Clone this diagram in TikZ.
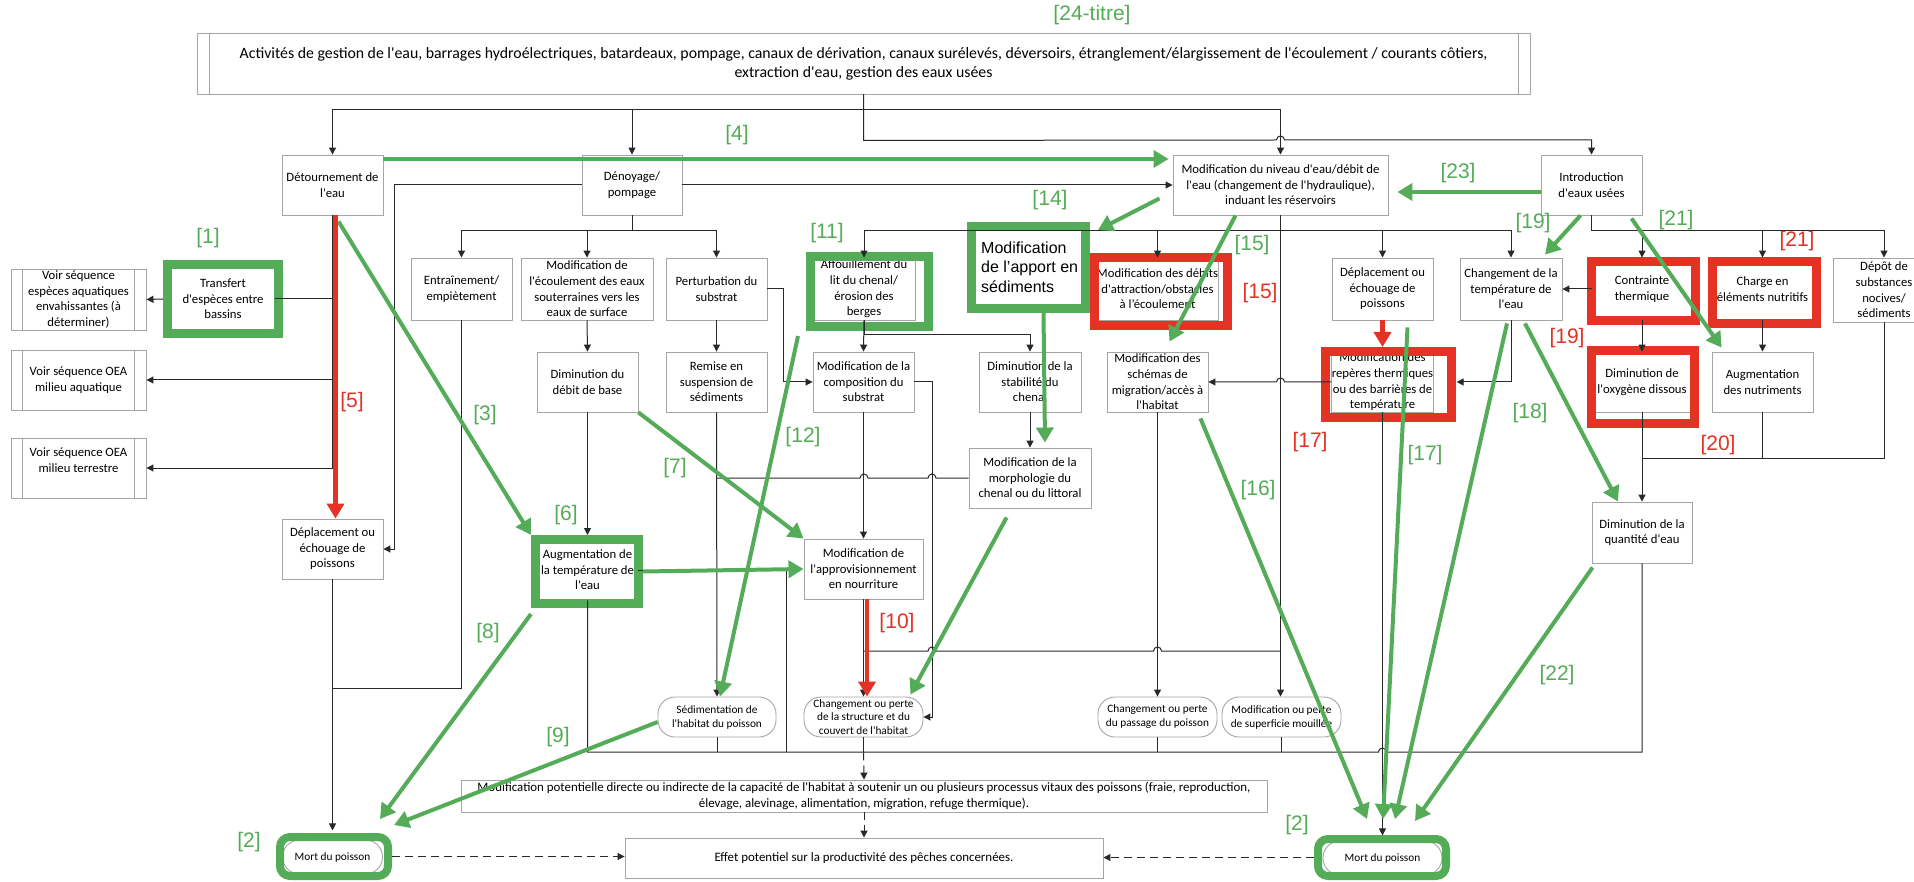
\documentclass[tikz,border=0pt]{standalone}
\usepackage{fontspec}
\setmainfont{Carlito}[Ligatures=TeXOff]
\newfontfamily\labfont{Liberation Sans}
\usetikzlibrary{arrows.meta,calc}
\definecolor{gg}{RGB}{84,172,88}
\definecolor{rr}{RGB}{228,50,36}
\definecolor{bxc}{RGB}{165,165,165}
\definecolor{lnc}{RGB}{40,40,40}
\tikzset{
  bbox/.style={draw=bxc, line width=0.9pt, fill=white, align=center, inner sep=0pt, text=black, font=\fontsize{12.7}{15.6}\selectfont},
  sbox/.style={bbox, rounded corners=17pt, font=\fontsize{11.3}{14}\selectfont},
  gframe/.style={draw=gg, line width=9pt, inner sep=0pt},
  rframe/.style={draw=rr, line width=9pt, inner sep=0pt},
  cline/.style={draw=lnc, line width=1pt},
  bxline/.style={draw=bxc, line width=0.9pt},
  conn/.style={cline, -{Triangle[length=7pt,width=7pt]}},
  dconn/.style={conn, dash pattern=on 8pt off 5pt},
  garr/.style={draw=gg, line width=4pt, -{Triangle[length=15pt,width=17pt]}},
  rarr/.style={draw=rr, line width=4.5pt, -{Triangle[length=15pt,width=17pt]}},
  glab/.style={text=gg, inner sep=0pt, font=\labfont\fontsize{21}{21}\selectfont},
  rlab/.style={glab, text=rr}
}
\begin{document}
\begin{tikzpicture}[x=1pt,y=-1pt]
\useasboundingbox (0,0) rectangle (1914,882);
\clip (0,0) rectangle (1914,882);
\fill[white] (0,0) rectangle (1914,882);

% ---------- nodes ----------
\node[bbox, minimum width=1333pt, minimum height=61pt, font=\fontsize{15.8}{19}\selectfont] (title) at (863.5,63.5) {Activités de gestion de l'eau, barrages hydroélectriques, batardeaux, pompage, canaux de dérivation, canaux surélevés, déversoirs, étranglement/élargissement de l'écoulement / courants côtiers,\\extraction d'eau, gestion des eaux usées};

\node[bbox, minimum width=101pt, minimum height=60pt] (det) at (332.5,185) {Détournement de\\l'eau};
\node[bbox, minimum width=100pt, minimum height=60pt] (den) at (632,185) {Dénoyage/\\pompage};
\node[bbox, minimum width=215pt, minimum height=60pt] (niv) at (1280.5,185) {Modification du niveau d'eau/débit de\\l'eau (changement de l'hydraulique),\\induant les réservoirs};
\node[bbox, minimum width=101pt, minimum height=60pt] (intro) at (1591.5,185) {Introduction\\d'eaux usées};

\node[bbox, minimum width=135pt, minimum height=61pt] (voirE) at (78.5,299.5) {Voir séquence\\espèces aquatiques\\envahissantes (à\\déterminer)};
\node[bbox, minimum width=135pt, minimum height=60pt] (voirA) at (78.5,380) {Voir séquence OEA\\milieu aquatique};
\node[bbox, minimum width=135pt, minimum height=60pt] (voirT) at (78.5,468) {Voir séquence OEA\\milieu terrestre\\~};
\node[bbox, draw=none, minimum width=104pt, minimum height=62pt] (transfer) at (223,299) {Transfert\\d'espèces entre\\bassins};

\node[bbox, minimum width=101pt, minimum height=62pt] (entr) at (461.5,289) {Entraînement/\\empiètement};
\node[bbox, minimum width=132pt, minimum height=62pt] (ecoul) at (587,289) {Modification de\\l'écoulement des eaux\\souterraines vers les\\eaux de surface};
\node[bbox, minimum width=101pt, minimum height=62pt] (pert) at (716.5,289) {Perturbation du\\substrat};
\node[bbox, minimum width=102pt, minimum height=62pt] (affou) at (864,289) {Affouillement du\\lit du chenal/\\érosion des\\berges};
\node[anchor=west, align=left, inner sep=0pt, font=\labfont\fontsize{16}{19.5}\selectfont] (apport) at (981,267) {Modification\\de l’apport en\\sédiments};
\node[bbox, minimum width=101pt, minimum height=62pt] (debits) at (1157.5,289) {Modification des débits\\d'attraction/obstacles\\à l’écoulement};
\node[bbox, minimum width=101pt, minimum height=62pt] (depmid) at (1382.5,289) {Déplacement ou\\échouage de\\poissons};
\node[bbox, minimum width=102pt, minimum height=62pt] (chtemp) at (1511,289) {Changement de la\\température de\\l'eau};
\node[bbox, minimum width=100pt, minimum height=62pt] (contr) at (1642,289) {Contrainte\\thermique};
\node[bbox, minimum width=101pt, minimum height=62pt] (charge) at (1762.5,289) {Charge en\\éléments nutritifs};
\node[bbox, minimum width=102pt, minimum height=64pt] (depot) at (1884,290) {Dépôt de\\substances\\nocives/\\sédiments};

\node[bbox, minimum width=101pt, minimum height=60pt] (debase) at (587.5,382) {Diminution du\\débit de base};
\node[bbox, minimum width=101pt, minimum height=60pt] (remise) at (716.5,382) {Remise en\\suspension de\\sédiments};
\node[bbox, minimum width=101pt, minimum height=60pt] (compo) at (863.5,382) {Modification de la\\composition du\\substrat};
\node[bbox, minimum width=102pt, minimum height=60pt] (stab) at (1030,382) {Diminution de la\\stabilité du\\chenal};
\node[bbox, minimum width=101pt, minimum height=60pt] (schem) at (1157.5,382) {Modification des\\schémas de\\migration/accès à\\l'habitat};
\node[bbox, minimum width=101pt, minimum height=60pt] (reperes) at (1382.5,382) {Modification des\\repères thermiques\\ou des barrières de\\température};
\node[bbox, minimum width=100pt, minimum height=60pt] (oxy) at (1642,382) {Diminution de\\l'oxygène dissous};
\node[bbox, minimum width=101pt, minimum height=60pt] (augn) at (1762.5,382) {Augmentation\\des nutriments};

\node[bbox, minimum width=122pt, minimum height=60pt] (morph) at (1030,478) {Modification de la\\morphologie du\\chenal ou du littoral};
\node[bbox, minimum width=100pt, minimum height=61pt] (dimq) at (1642,532.5) {Diminution de la\\quantité d'eau};
\node[bbox, minimum width=101pt, minimum height=60pt] (depL) at (332.5,549) {Déplacement ou\\échouage de\\poissons};
\node[bbox, minimum width=101pt, minimum height=60pt] (augm) at (587.5,570) {Augmentation de\\la température de\\l'eau};
\node[bbox, minimum width=119pt, minimum height=60pt] (approv) at (863.5,569) {Modification de\\l'approvisionnement\\en nourriture};

\node[sbox, minimum width=118pt, minimum height=40pt] (sedim) at (717,717) {Sédimentation de\\l'habitat du poisson};
\node[sbox, minimum width=119pt, minimum height=40pt, font=\fontsize{11.3}{13.5}\selectfont] (struct) at (863.5,717) {Changement ou perte\\de la structure et du\\couvert de l'habitat};
\node[sbox, minimum width=119pt, minimum height=40pt] (passage) at (1157.5,717) {Changement ou perte\\du passage du poisson};
\node[sbox, minimum width=119pt, minimum height=40pt] (superf) at (1281.5,717) {Modification ou perte\\de superficie mouillée};

\node[bbox, minimum width=806pt, minimum height=32pt, font=\fontsize{12.9}{16}\selectfont] (modpot) at (864,796) {Modification potentielle directe ou indirecte de la capacité de l'habitat à soutenir un ou plusieurs processus vitaux des poissons (fraie, reproduction,\\élevage, alevinage, alimentation, migration, refuge thermique).};
\node[bbox, minimum width=478pt, minimum height=40pt, font=\fontsize{12.9}{16}\selectfont] (effet) at (864,858) {Effet potentiel sur la productivité des pêches concernées.};
\node[bbox, rounded corners=17pt, minimum width=100pt, minimum height=34pt, font=\fontsize{11.3}{14}\selectfont] (mortL) at (332.5,857) {Mort du poisson};
\node[bbox, rounded corners=17pt, minimum width=119pt, minimum height=34pt, font=\fontsize{11.3}{14}\selectfont] (mortR) at (1382.5,858) {Mort du poisson};

% double lines of process boxes
\foreach \n in {voirE,voirA,voirT}{
  \draw[bxline] ([xshift=12pt]\n.north west) -- ([xshift=12pt]\n.south west);
  \draw[bxline] ([xshift=-12pt]\n.north east) -- ([xshift=-12pt]\n.south east);
}
\draw[bxline] ([xshift=13pt]title.north west) -- ([xshift=13pt]title.south west);
\draw[bxline] ([xshift=-12pt]title.north east) -- ([xshift=-12pt]title.south east);

% ---------- frames ----------
\node[gframe, minimum width=111pt, minimum height=69pt] (transferF) at (223,299) {};
\node[gframe, minimum width=118pt, minimum height=70pt] (affouF) at (869.5,291.5) {};
\node[gframe, minimum width=114pt, minimum height=82pt] (apportF) at (1028.5,267.5) {};
\node[gframe, minimum width=103pt, minimum height=64pt] (augmF) at (587,571.5) {};
\node[gframe, line width=8pt, rounded corners=10pt, minimum width=108pt, minimum height=39pt] (mortLF) at (334,856.5) {};
\node[gframe, line width=8pt, rounded corners=10pt, minimum width=128pt, minimum height=37pt] (mortRF) at (1382,857.5) {};
\node[rframe, minimum width=133pt, minimum height=68pt] (debitsF) at (1161,291.5) {};
\node[rframe, minimum width=126pt, minimum height=66pt] (reperesF) at (1388.5,384.5) {};
\node[rframe, minimum width=104pt, minimum height=59pt] (contrF) at (1643.5,291) {};
\node[rframe, minimum width=104pt, minimum height=62pt] (chargeF) at (1764.5,292.5) {};
\node[rframe, minimum width=103pt, minimum height=73pt] (oxyF) at (1643,387) {};

% ---------- black connectors ----------
\draw[conn] (title.south) -- ++(0,15) -| (det.north);
\draw[conn] (title.south) -- ++(0,15) -| (den.north);
\draw[conn] (title.south) -- ++(0,15) -| (niv.north);
\draw[conn] (title.south) -- ++(0,46) -- (1276.5,140) arc[start angle=180,end angle=0,radius=4pt] -| (intro.north);

\draw[conn] (den.east) -- (niv.west);
\draw[conn] (den.west) -- (394,185) |- (depL.east);
\draw[conn] (den.south) -- ++(0,15) -| (entr.north);
\draw[conn] (den.south) -- ++(0,15) -| (ecoul.north);
\draw[conn] (den.south) -- ++(0,15) -| (pert.north);

\draw[conn] (niv.south) -- ++(0,15) -| (affou.north);
\draw[conn] (niv.south) -- ++(0,15) -| (debits.north);
\draw[conn] (niv.south) -- ++(0,15) -| (depmid.north);
\draw[conn] (niv.south) -- ++(0,15) -| (chtemp.north);
\draw[conn] (niv.south) -- (niv.south |- superf.north);

\draw[conn] (intro.south) -- ++(0,15) -| (contr.north);
\draw[conn] (intro.south) -- ++(0,15) -| (charge.north);
\draw[conn] (intro.south) -- ++(0,15) -| (depot.north);
\draw[conn] (contr.west) -- (chtemp.east);

\draw[cline] (det.south) |- (transfer.east);
\draw[conn] (transferF.west) -- (voirE.east);
\draw[conn] (det.south) |- (voirA.east);
\draw[conn] (det.south) |- (voirT.east);
\draw[conn] (depL.south) -- ++(0,251);
\coordinate (jL) at (332.5,688);
\draw[cline] (entr.south) |- (jL);

\draw[conn] (ecoul.south) -- (debase.north);
\draw[conn] (debase.south) -- (debase.south |- augmF.north);
\draw[conn] (pert.south) -- (remise.north);
\draw[conn] (pert.east) -- ++(16,0) |- (compo.west);
\draw[conn] (remise.south) -- (sedim.north);
\draw[cline] (morph.west) -- (936,478) arc[start angle=0,end angle=180,radius=4pt] -- (868,478) arc[start angle=0,end angle=180,radius=4pt] -- (716.5,478);
\draw[conn] (affou.south) -- (compo.north);
\draw[conn] (affou.south) -- ++(0,14) -| (stab.north);
\draw[conn] (stab.south) -- (morph.north);
\draw[conn] (compo.south) -- (approv.north);
\draw[conn] (compo.east) -- ++(18,0) |- (struct.east);
\draw[conn] (approv.south) -- (struct.north);
\draw[cline] (1280.5,651) -- (1161.5,651) arc[start angle=0,end angle=180,radius=4pt] -- (936,651) arc[start angle=0,end angle=180,radius=4pt] -- (863.5,651);
\draw[conn] (schem.south) -- (passage.north);
\draw[conn] (reperes.west) -- (1284.5,382) arc[start angle=0,end angle=180,radius=4pt] -- (schem.east);
\draw[conn] (chtemp.south) |- ([xshift=23pt]reperes.east);
\draw[conn] (reperes.south) -- ++(0,423);

\draw[conn] (contr.south) -- (oxy.north);
\draw[conn] (charge.south) -- (augn.north);
\coordinate (jQ) at (1642,458);
\draw[conn] (oxy.south) -- (dimq.north);
\draw[cline] (augn.south) |- (jQ);
\draw[cline] (depot.south) |- (jQ);

\draw[cline] (augm.south) |- (1378.5,752) arc[start angle=180,end angle=0,radius=4pt] -| (dimq.south);
\draw[cline] (augm.east) -- (786,570) -- (786,752);
\draw[cline] (sedim.south) -- ++(0,15);
\draw[cline] (struct.south) -- ++(0,15);
\draw[cline] (passage.south) -- ++(0,15);
\draw[cline] (superf.south) -- ++(0,15);
\draw[dconn] (struct.south) ++(0,15) -- (modpot.north);
\draw[dconn] (modpot.south) -- (effet.north);
\draw[dconn] (mortLF.east) -- (mortLF.east -| effet.west);
\draw[dconn] (mortRF.west) -- (mortRF.west -| effet.east);

% ---------- green / red arrows ----------
\draw[garr] ([yshift=26pt]det.east) -- ([yshift=26pt,xshift=-4pt]niv.west);
\draw[garr] ([xshift=6pt,yshift=-6pt]det.south) -- (augmF.north west);
\draw[rarr] ([xshift=3pt]det.south) -- ([xshift=3pt]depL.north);
\draw[garr] (debase.south east) -- (approv.north west);
\draw[garr] (augmF.east) -- (approv.west);
\draw[garr] ([yshift=-6pt]augmF.south west) -- ([xshift=-12pt,yshift=14pt]mortLF.north east);
\draw[garr] ([yshift=-5pt]sedim.west) -- ([xshift=2pt,yshift=8pt]mortLF.north east);
\draw[rarr] ([xshift=3.5pt]approv.south) -- ([xshift=3.5pt]struct.north);
\draw[garr] ([xshift=-8pt,yshift=-5pt]affouF.south west) -- ([xshift=3pt]sedim.north);
\draw[garr] ([xshift=38pt,yshift=-9pt]morph.south west) -- ([xshift=-13pt,yshift=2pt]struct.north east);
\draw[garr] ([xshift=15pt]apportF.south) -- ([xshift=15pt,yshift=5pt]morph.north);
\draw[garr] ([xshift=-13pt,yshift=17pt]niv.south west) -- ([xshift=8pt,yshift=-8pt]apportF.north east);
\draw[garr] ([xshift=-45pt]niv.south) -- ([xshift=12pt,yshift=10pt]schem.north);
\draw[garr] ([xshift=-8pt,yshift=-6pt]schem.south east) -- ([xshift=-15pt,yshift=16pt]mortRF.north);
\draw[rarr] (depmid.south) -- (depmid.south |- reperesF.north);
\draw[garr] ([xshift=25pt,yshift=-7pt]depmid.south) -- ([xshift=1pt,yshift=16pt]mortRF.north);
\draw[garr] ([xshift=-4pt,yshift=-3pt]chtemp.south) -- ([xshift=13pt,yshift=16pt]mortRF.north);
\draw[garr] ([xshift=1pt,yshift=-4pt]dimq.south west) -- ([xshift=33pt,yshift=14pt]mortRF.north);
\draw[garr] ([xshift=14pt,yshift=-3pt]chtemp.south) -- ([xshift=-24pt]dimq.north);
\draw[garr] ([xshift=-11pt]intro.south) -- ([xshift=34pt,yshift=3pt]chtemp.north);
\draw[garr] ([xshift=40pt,yshift=-3pt]intro.south) -- ([xshift=10pt,yshift=4pt]augn.north west);
\draw[garr] ([yshift=-7pt]intro.west) -- ([xshift=9pt,yshift=-7pt]niv.east);

% ---------- labels ----------
\node[glab] (l24) at (1092,15) {[24-titre]};
\node[glab] (l1) at (208,238) {[1]};
\node[glab] (l4) at (737,135) {[4]};
\node[glab] (l3) at (485,415) {[3]};
\node[rlab] (l5) at (352,402) {[5]};
\node[glab] (l6) at (566,515) {[6]};
\node[glab] (l7) at (675,468) {[7]};
\node[glab] (l8) at (488,633) {[8]};
\node[glab] (l9) at (558,737) {[9]};
\node[rlab] (l10) at (897,623) {[10]};
\node[glab] (l11) at (827,233) {[11]};
\node[glab] (l12) at (803,437) {[12]};
\node[glab] (l14) at (1050,200) {[14]};
\node[glab] (l15g) at (1252,245) {[15]};
\node[rlab] (l15r) at (1260,293) {[15]};
\node[glab] (l16) at (1258,490) {[16]};
\node[rlab] (l17r) at (1310,442) {[17]};
\node[glab] (l17g) at (1425,455) {[17]};
\node[glab] (l18) at (1530,413) {[18]};
\node[glab] (l19g) at (1533,223) {[19]};
\node[rlab] (l19r) at (1567,338) {[19]};
\node[rlab] (l20) at (1718,445) {[20]};
\node[glab] (l21g) at (1676,220) {[21]};
\node[rlab] (l21r) at (1797,241) {[21]};
\node[glab] (l22) at (1557,675) {[22]};
\node[glab] (l23) at (1458,173) {[23]};
\node[glab] (l2a) at (249,842) {[2]};
\node[glab] (l2b) at (1297,825) {[2]};
\end{tikzpicture}
\end{document}
